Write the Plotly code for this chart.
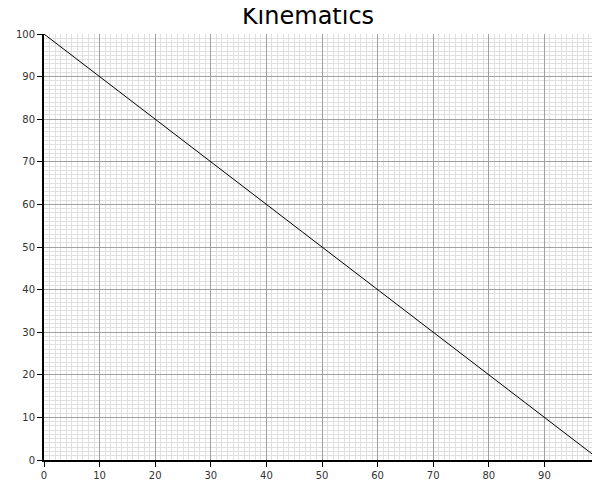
import plotly.graph_objects as go

# time steps and position
t_values = [0, 5, 10, 15, 20, 25, 30, 35, 40, 45, 50, 55, 60, 65, 70, 75, 80, 85, 90, 95, 99]
pos_values = [100, 95, 90, 85, 80, 75, 70, 65, 60, 55, 50, 45, 40, 35, 30, 25, 20, 15, 10, 5, 1]

fig = go.Figure()
fig.add_trace(go.Scatter(x=t_values, y=pos_values, mode='lines',
                         line=dict(color='black', width=1)))

axis_common = dict(
    showgrid=True, gridcolor='#a0a0a0', gridwidth=1,
    minor=dict(dtick=1, showgrid=True, gridcolor='#e0e0e0', gridwidth=1),
    dtick=10, ticks='outside', ticklen=5, tickcolor='black',
    showline=True, linecolor='black', linewidth=2, zeroline=False,
    tickfont=dict(size=10, color='#333'),
)
fig.update_xaxes(range=[0, 100], **axis_common)
fig.update_yaxes(range=[0, 100], **axis_common)
fig.update_layout(
    title=dict(text='Kinematics', x=0.5, y=0.984, yanchor='middle',
               font=dict(size=24, color='black')),
    font=dict(family='DejaVu Sans'),
    width=600, height=500,
    margin=dict(l=32, r=8, t=26, b=48),
    plot_bgcolor='white', paper_bgcolor='white',
    showlegend=False,
)
fig.write_html("out.html")
